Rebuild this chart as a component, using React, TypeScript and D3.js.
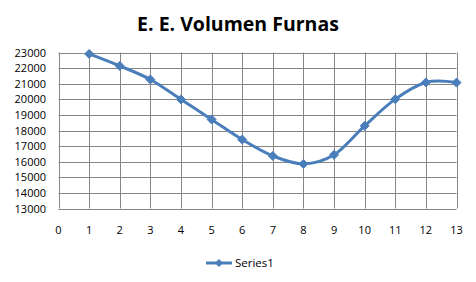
import React from "react";
import * as d3 from "d3";

const categories = [1, 2, 3, 4, 5, 6, 7, 8, 9, 10, 11, 12, 13];
const series1 = [22910, 22140, 21270, 19990, 18710, 17420, 16370, 15860, 16440, 18300, 20010, 21080, 21070];
const yTicks = [13000, 14000, 15000, 16000, 17000, 18000, 19000, 20000, 21000, 22000, 23000];
const xTicks = [0, 1, 2, 3, 4, 5, 6, 7, 8, 9, 10, 11, 12, 13];
const title = "E. E. Volumen Furnas";
const seriesName = "Series1";

export default function App() {
  const W = 476, H = 282;
  const x = d3.scaleLinear().domain([0, 13]).range([58.5, 456.5]);
  const y = d3.scaleLinear().domain([13000, 23000]).range([208.5, 52.5]);
  const color = "#4A7EBB";
  const font = "Open Sans, Liberation Sans, sans-serif";
  const line = d3
    .line<number>()
    .x((_, i) => x(categories[i]))
    .y((d) => y(d))
    .curve(d3.curveCardinal.tension(0));
  const diamond = (cx: number, cy: number, r: number) =>
    `M${cx},${cy - r}L${cx + r},${cy}L${cx},${cy + r}L${cx - r},${cy}Z`;
  return (
    <svg width={W} height={H} style={{ position: "absolute", left: 0, top: 0 }}>
      <rect width={W} height={H} fill="#fff" />
      <text x={238} y={31} textAnchor="middle" fontFamily={font} fontWeight="bold" fontSize={19.5} fill="#000">
        {title}
      </text>
      {yTicks.map((t) => (
        <line key={"gy" + t} x1={x(0)} x2={x(13)} y1={Math.round(y(t)) + 0.5} y2={Math.round(y(t)) + 0.5} stroke="#868686" strokeWidth={1} />
      ))}
      {xTicks.map((t) => (
        <line key={"gx" + t} x1={Math.round(x(t)) + 0.5} x2={Math.round(x(t)) + 0.5} y1={y(23000)} y2={y(13000)} stroke="#868686" strokeWidth={1} />
      ))}
      {yTicks.map((t) => (
        <text key={"ty" + t} x={46} y={y(t) + 4} textAnchor="end" fontFamily={font} fontSize={11} fill="#000">
          {t}
        </text>
      ))}
      {xTicks.map((t) => (
        <text key={"tx" + t} x={x(t)} y={234} textAnchor="middle" fontFamily={font} fontSize={11} fill="#000">
          {t}
        </text>
      ))}
      <path d={line(series1) || ""} fill="none" stroke={color} strokeWidth={3} strokeLinejoin="round" />
      {series1.map((v, i) => (
        <path key={"m" + i} d={diamond(x(categories[i]), y(v), 4.5)} fill={color} stroke={color} strokeWidth={1} />
      ))}
      <line x1={206} x2={232} y1={263} y2={263} stroke={color} strokeWidth={3} />
      <path d={diamond(219, 263, 4)} fill={color} />
      <text x={235} y={267} fontFamily={font} fontSize={11.5} fill="#000">
        {seriesName}
      </text>
    </svg>
  );
}
